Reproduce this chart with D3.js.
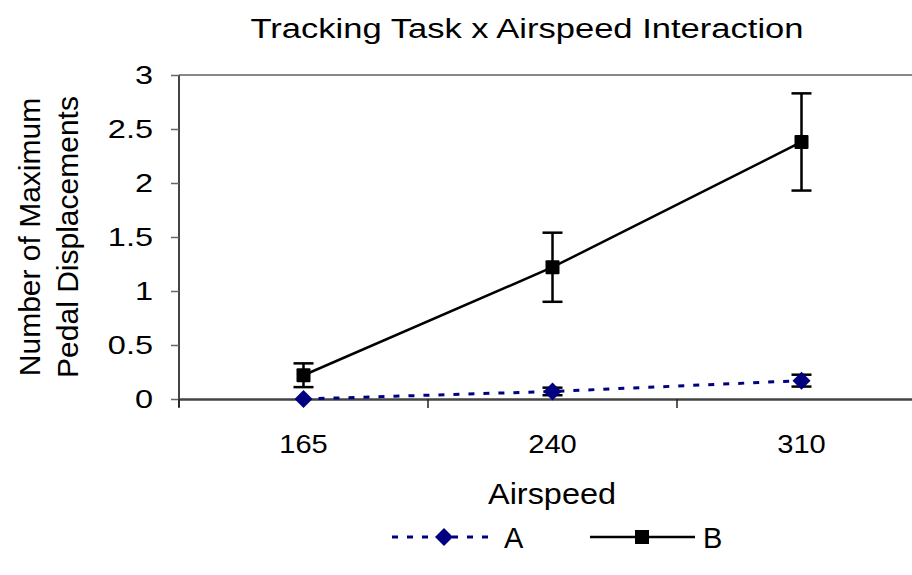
<!DOCTYPE html>
<html><head><meta charset="utf-8">
<script src="https://cdn.jsdelivr.net/npm/d3@7"></script>
<style>body{margin:0;background:#fff}svg{display:block}text{font-family:"Liberation Sans",Arial,sans-serif;fill:#000}</style>
</head><body><svg id="c" width="912" height="575"></svg>
<script>
const categories = ["165","240","310"];
const seriesA = [0, 0.07, 0.17];
const errA = [0, 0.035, 0.055];
const seriesB = [0.22, 1.22, 2.38];
const errB = [0.11, 0.32, 0.45];
const yTicks = [0,0.5,1,1.5,2,2.5,3];
const yTickLabels = ["0","0.5","1","1.5","2","2.5","3"];

const svg = d3.select("#c");
const x = d3.scaleBand().domain(categories).range([179, 926]).padding(0);
const y = d3.scaleLinear().domain([0,3]).range([399, 75]);
const cx = c => x(c) + x.bandwidth()/2;

// top boundary line
svg.append("line").attr("x1",179).attr("x2",912).attr("y1",y(3)).attr("y2",y(3))
  .attr("stroke","#888").attr("stroke-width",2);

// y axis
const ya = svg.append("g").attr("transform","translate(179,0)")
  .call(d3.axisLeft(y).tickValues(yTicks).tickFormat("").tickSize(8));
ya.select(".domain").attr("stroke","#444").attr("stroke-width",2).attr("d","M0,"+y(3)+"V"+(y(0)+8));
ya.selectAll(".tick line").attr("stroke","#666").attr("stroke-width",1.5);
svg.selectAll(".ytl").data(yTicks).enter().append("text")
  .attr("transform",d=>"translate(153,"+y(d)+") scale(1.3,1)")
  .attr("text-anchor","end").attr("dy","0.36em").attr("font-size",25)
  .text((d,i)=>yTickLabels[i]);

// x axis
const xa = svg.append("g").attr("transform","translate(0,"+y(0)+")")
  .call(d3.axisBottom(x).tickSize(0).tickFormat(""));
xa.select(".domain").attr("stroke","#444").attr("stroke-width",2.5);
svg.selectAll(".xtl").data(categories).enter().append("text")
  .attr("transform",d=>"translate("+cx(d)+",453) scale(1.12,1)")
  .attr("text-anchor","middle").attr("font-size",26).text(d=>d);
// between-category ticks
const bounds = categories.map(c=>x(c)).concat([x(categories[2])+x.bandwidth()]);
svg.selectAll(".bt").data(bounds).enter().append("line")
  .attr("x1",d=>d).attr("x2",d=>d).attr("y1",y(0)).attr("y2",y(0)+9)
  .attr("stroke","#222").attr("stroke-width",1.5);

// title and labels
svg.append("text").attr("x",527).attr("y",38).attr("text-anchor","middle")
  .attr("font-size",27).attr("textLength",553).attr("lengthAdjust","spacingAndGlyphs")
  .text("Tracking Task x Airspeed Interaction");
const yl = svg.append("text").attr("transform","translate(0,237) rotate(-90)")
  .attr("text-anchor","middle").attr("font-size",30);
yl.append("tspan").attr("x",0).attr("y",40).text("Number of Maximum");
yl.append("tspan").attr("x",0).attr("y",78).text("Pedal Displacements");
svg.append("text").attr("x",552).attr("y",504).attr("text-anchor","middle")
  .attr("font-size",29).attr("textLength",128).attr("lengthAdjust","spacingAndGlyphs").text("Airspeed");

// series B line
const line = d3.line().x((d,i)=>cx(categories[i])).y(d=>y(d));
svg.append("path").attr("d",line(seriesB)).attr("fill","none").attr("stroke","#000").attr("stroke-width",2.5);
// series A line
svg.append("path").attr("d",line(seriesA)).attr("fill","none").attr("stroke","#000080")
  .attr("stroke-width",3).attr("stroke-dasharray","6,9");

// error bars
function errBars(vals, errs, color){
  const g = svg.append("g");
  vals.forEach((v,i)=>{
    if(errs[i]<=0) return;
    const X = cx(categories[i]);
    g.append("line").attr("x1",X).attr("x2",X).attr("y1",y(v+errs[i])).attr("y2",y(v-errs[i])).attr("stroke",color).attr("stroke-width",2.5);
    [v+errs[i], v-errs[i]].forEach(e=>{
      g.append("line").attr("x1",X-10).attr("x2",X+10).attr("y1",y(e)).attr("y2",y(e)).attr("stroke",color).attr("stroke-width",2.5);
    });
  });
}
errBars(seriesB, errB, "#000");
errBars(seriesA, errA, "#000");

// markers
svg.selectAll(".mb").data(seriesB).enter().append("rect")
  .attr("x",(d,i)=>cx(categories[i])-7).attr("y",d=>y(d)-7).attr("width",14).attr("height",14)
  .attr("rx",1).attr("fill","#000");
const dia = "M0,-9L9,0L0,9L-9,0Z";
svg.selectAll(".ma").data(seriesA).enter().append("path")
  .attr("d",dia).attr("transform",(d,i)=>"translate("+cx(categories[i])+","+y(d)+")").attr("fill","#000080");

// legend
const ly = 537;
svg.append("line").attr("x1",392).attr("x2",492).attr("y1",ly).attr("y2",ly)
  .attr("stroke","#000080").attr("stroke-width",3).attr("stroke-dasharray","6,9");
svg.append("path").attr("d",dia).attr("transform","translate(444,"+ly+")").attr("fill","#000080");
svg.append("text").attr("x",504).attr("y",ly+11).attr("font-size",29).text("A");
svg.append("line").attr("x1",590).attr("x2",695).attr("y1",ly).attr("y2",ly)
  .attr("stroke","#000").attr("stroke-width",2.5);
svg.append("rect").attr("x",635).attr("y",ly-7).attr("width",14).attr("height",14).attr("fill","#000");
svg.append("text").attr("x",703).attr("y",ly+11).attr("font-size",29).text("B");
</script></body></html>
